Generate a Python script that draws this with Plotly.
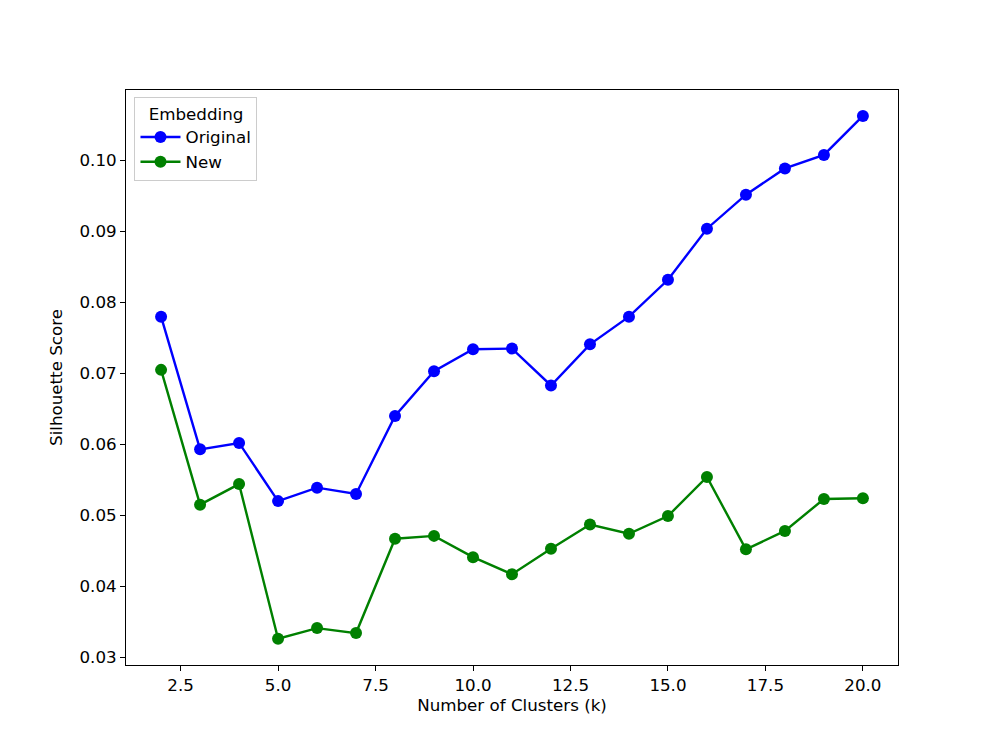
import plotly.graph_objects as go

# Silhouette scores per number of clusters
k_values = list(range(2, 21))
original_scores = [0.0780, 0.0593, 0.0602, 0.0520, 0.0539, 0.0530, 0.0640, 0.0703,
                   0.0734, 0.0735, 0.0683, 0.0741, 0.0780, 0.0832, 0.0904, 0.0952,
                   0.0989, 0.1008, 0.1063]
new_scores = [0.0705, 0.0515, 0.0544, 0.0326, 0.0341, 0.0334, 0.0467, 0.0471,
              0.0441, 0.0417, 0.0453, 0.0487, 0.0474, 0.0499, 0.0554, 0.0452,
              0.0478, 0.0523, 0.0524]

font = dict(family="DejaVu Sans", size=16.7, color="black")

fig = go.Figure()
fig.add_trace(go.Scatter(x=k_values, y=original_scores, mode="lines+markers", name="Original",
                         line=dict(color="blue", width=2.4), marker=dict(color="blue", size=12)))
fig.add_trace(go.Scatter(x=k_values, y=new_scores, mode="lines+markers", name="New",
                         line=dict(color="green", width=2.4), marker=dict(color="green", size=12)))

axis_common = dict(showgrid=False, zeroline=False, showline=True, linecolor="black", linewidth=1,
                   mirror=True, ticks="outside", ticklen=5, tickwidth=1, tickcolor="black",
                   tickfont=font)

fig.update_layout(
    width=997, height=747,
    margin=dict(l=118, r=107, t=82, b=90),
    paper_bgcolor="white", plot_bgcolor="white",
    font=font,
    xaxis=dict(axis_common, range=[1.1, 20.9], tick0=0, dtick=2.5, tickformat=".1f",
               title=dict(text="Number of Clusters (k)", font=font, standoff=4)),
    yaxis=dict(axis_common, range=[0.0289, 0.10995], tick0=0, dtick=0.01, tickformat=".2f",
               title=dict(text="Silhouette Score", font=font, standoff=12)),
    legend=dict(x=0.011, y=0.988, xanchor="left", yanchor="top",
                bordercolor="#cccccc", borderwidth=1, bgcolor="rgba(255,255,255,0.8)",
                title=dict(text="Embedding", side="top center", font=font),
                font=font, itemwidth=40, tracegroupgap=2),
)

fig.write_html("out.html")
